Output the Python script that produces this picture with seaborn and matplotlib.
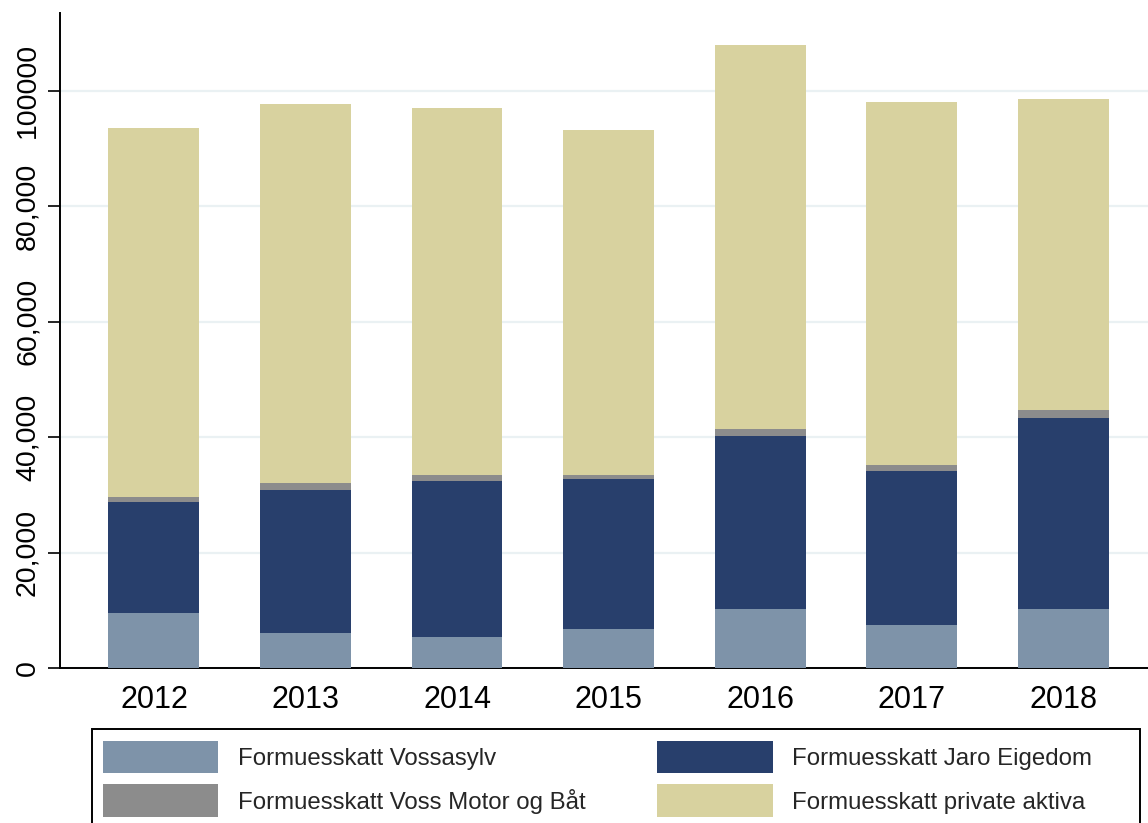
import matplotlib
matplotlib.use("Agg")
import matplotlib.pyplot as plt
from matplotlib.patches import Patch, Rectangle
import numpy as np
import pandas as pd
import seaborn as sns

years = ["2012", "2013", "2014", "2015", "2016", "2017", "2018"]
vossasylv = [9500, 6100, 5400, 6700, 10200, 7400, 10200]
jaro_eigedom = [19300, 24750, 26950, 26050, 29950, 26750, 33100]
voss_motor = [900, 1250, 1150, 650, 1350, 1050, 1400]
private_aktiva = [63900, 65600, 63550, 59800, 66500, 62900, 53900]

series = [
    ("Formuesskatt Vossasylv", vossasylv, "#7e93a9"),
    ("Formuesskatt Voss Motor og Båt", voss_motor, "#8c8c8c"),
    ("Formuesskatt Jaro Eigedom", jaro_eigedom, "#283f6c"),
    ("Formuesskatt private aktiva", private_aktiva, "#d8d29f"),
]
# stacking order bottom -> top
stack_order = [0, 2, 1, 3]

sns.set_theme(style="white")
plt.rcParams["font.family"] = ["Liberation Sans", "DejaVu Sans"]

fig = plt.figure(figsize=(11.48, 8.23), dpi=100)
ax = fig.add_axes([60 / 1148, 1 - 668 / 823, 1 - 60 / 1148, (668 - 13) / 823])

bottom = np.zeros(len(years))
for i in stack_order:
    name, vals, color = series[i]
    df = pd.DataFrame({"year": years, "value": vals})
    sns.barplot(data=df, x="year", y="value", color=color, width=0.6,
                bottom=bottom, linewidth=0, saturation=1, ax=ax, zorder=3)
    bottom = bottom + np.array(vals)

ax.set_xlim(-0.62, 6.56)
ax.set_ylim(0, 113500)
ax.set_yticks([0, 20000, 40000, 60000, 80000, 100000])
ax.set_yticklabels(["0", "20,000", "40,000", "60,000", "80,000", "100000"],
                   rotation=90, va="center", fontsize=20.5)
ax.yaxis.grid(True, color="#eaf1f3", linewidth=1.6, zorder=0)
ax.set_axisbelow(True)
ax.set_xlabel("")
ax.set_ylabel("")
ax.tick_params(axis="x", length=0, pad=12, labelsize=22, colors="black")
ax.tick_params(axis="y", length=9, width=1.2, pad=5, direction="out",
               left=True, colors="black")

for s in ["top", "right"]:
    ax.spines[s].set_visible(False)
for s in ["left", "bottom"]:
    ax.spines[s].set_color("black")
    ax.spines[s].set_linewidth(1.4)

# legend box drawn separately so it runs off the bottom like the original
fig.patches.append(Rectangle((92 / 1148, -0.02), 1048 / 1148, 0.02 + 1 - 729 / 823,
                             transform=fig.transFigure, facecolor="white",
                             edgecolor="black", linewidth=1.4, zorder=0))
handles = [Patch(facecolor=c, edgecolor="none", label=n) for n, _, c in series]
fig.legend(handles=handles, ncol=2, loc="upper left",
           bbox_to_anchor=(103 / 1148, 1 - 741 / 823),
           fontsize=17.3, frameon=False,
           handlelength=4.8, handleheight=1.7, handletextpad=0.8,
           labelspacing=0.46, columnspacing=3.0, borderpad=0, borderaxespad=0)

fig.savefig("out.png", dpi=100)
